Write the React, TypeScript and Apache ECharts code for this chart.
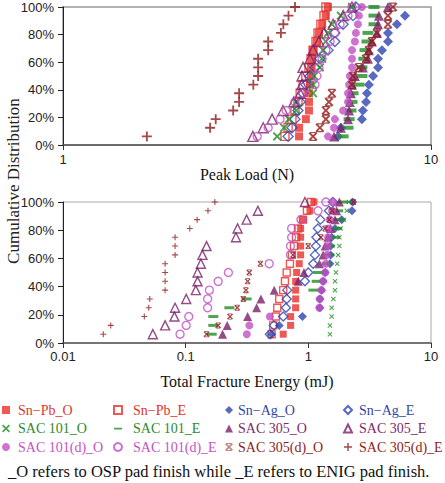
import React, { useEffect, useRef } from "react";
import * as echarts from "echarts";

// Cumulative distribution levels (%), one per ranked specimen
const cumulativePct = [6.25, 12.5, 18.75, 25, 31.25, 37.5, 43.75, 50, 56.25, 62.5, 68.75, 75, 81.25, 87.5, 93.75, 100];

const legendNames = [
  "Sn−Pb_O", "Sn−Pb_E", "Sn−Ag_O", "Sn−Ag_E",
  "SAC 101_O", "SAC 101_E", "SAC 305_O", "SAC 305_E",
  "SAC 101(d)_O", "SAC 101(d)_E", "SAC 305(d)_O", "SAC 305(d)_E",
];

const yTickLabels = ["0%", "20%", "40%", "60%", "80%", "100%"];

// Peak load (N)
const peakSnPbO = [4.38, 4.38, 4.57, 4.66, 4.66, 4.66, 4.69, 4.72, 4.72, 4.75, 4.78, 4.9, 4.96, 5.06, 5.18, 5.25];
const peakSnPbE = [4.01, 4.09, 4.19, 4.27, 4.35, 4.41, 4.49, 4.57, 4.66, 4.72, 4.78, 4.87, 4.93, 5.02, 5.12, 5.18];
const peakSnAgO = [5.59, 5.69, 6.49, 6.53, 6.66, 6.7, 6.78, 6.96, 7.18, 7.18, 7.36, 7.64, 7.64, 8.08, 8.5];
const peakSnAgE = [4.09, 4.19, 4.27, 4.35, 4.41, 4.49, 4.57, 4.69, 4.84, 4.99, 5.25, 5.48, 5.48, 5.77, 6.14, 6.25];
const peakSAC101O = [3.82, 3.99, 4.11, 4.3, 4.32, 4.78, 4.78, 4.81, 4.99, 5.06, 5.09, 5.18, 5.25, 5.38, 5.69, 6.1];
const peakSAC101E = [5.77, 5.95, 5.99, 6.06, 6.1, 6.14, 6.37, 6.49, 6.49, 6.57, 6.62, 6.7, 6.74, 7.0, 7.0, 7.0];
const peakSAC305O = [5.45, 5.69, 5.95, 5.99, 6.02, 6.06, 6.1, 6.21, 6.53, 6.74, 6.78, 6.91, 7.13, 7.18, 7.22, 7.64];
const peakSAC305E = [3.28, 3.5, 3.7, 3.96, 4.24, 4.41, 4.46, 4.46, 4.49, 4.69, 4.78, 4.96, 5.12, 5.42, 5.77, 6.1];
const peakSAC101dO = [5.25, 5.45, 5.48, 5.77, 5.95, 5.95, 5.99, 6.02, 6.1, 6.1, 6.1, 6.21, 6.25, 6.33, 6.37, 6.49];
const peakSAC101dE = [3.37, 3.61, 3.89, 4.04, 4.27, 4.49, 4.84, 4.9, 4.96, 5.06, 5.18, 5.32, 5.48, 5.66, 5.95, 6.1];
const peakSAC305dO = [4.78, 4.99, 5.18, 5.18, 5.28, 5.38, 6.1, 6.14, 6.37, 6.66, 6.78, 6.91, 7.13, 7.64, 7.64, 7.88];
const peakSAC305dE = [1.69, 2.51, 2.6, 2.9, 3.01, 3.01, 3.29, 3.39, 3.39, 3.39, 3.61, 3.61, 3.91, 3.97, 4.1, 4.27];

// Total fracture energy (mJ)
const energySnPbO = [0.624, 0.717, 0.717, 0.788, 0.788, 0.788, 0.788, 0.803, 0.843, 0.865, 0.865, 0.865, 0.865, 0.904, 1.03, 1.11];
const energySnPbE = [0.502, 0.517, 0.544, 0.558, 0.579, 0.624, 0.645, 0.666, 0.708, 0.735, 0.763, 0.793, 0.823, 0.904, 0.974, 1.05];
const energySnAgO = [0.502, 0.579, 0.895, 1.243, 1.243, 1.28, 1.32, 1.37, 1.5, 1.52, 1.52, 1.55, 1.65, 1.87, 2.27, 2.3];
const energySnAgE = [0.486, 0.524, 0.624, 0.657, 0.666, 0.673, 0.938, 0.998, 1.096, 1.132, 1.153, 1.163, 1.197, 1.255, 1.472, 1.587];
const energySAC101O = [1.5, 1.5, 1.55, 1.55, 1.6, 1.65, 1.65, 1.68, 1.72, 1.75, 1.79, 1.79, 1.83, 1.95, 2.06, 2.14];
const energySAC101E = [0.163, 0.168, 0.168, 0.227, 0.314, 1.1, 1.17, 1.2, 1.41, 1.48, 1.5, 1.65, 1.72, 1.75, 1.75, 1.92];
const energySAC305O = [0.2, 0.218, 0.32, 0.379, 0.411, 0.527, 0.828, 0.921, 1.23, 1.32, 1.37, 1.44, 1.52, 1.65, 1.7, 1.79];
const energySAC305E = [0.054, 0.068, 0.081, 0.082, 0.101, 0.121, 0.125, 0.125, 0.133, 0.137, 0.148, 0.257, 0.265, 0.314, 0.388, 0.938];
const energySAC101dO = [0.315, 0.33, 0.486, 1.23, 1.24, 1.28, 1.32, 1.37, 1.39, 1.42, 1.44, 1.45, 1.46, 1.5, 1.56, 1.58];
const energySAC101dE = [0.09, 0.101, 0.106, 0.151, 0.151, 0.156, 0.184, 0.223, 0.48, 0.715, 0.715, 0.731, 0.731, 0.87, 1.2, 1.39];
const energySAC305dO = [0.148, 0.184, 0.23, 0.263, 0.295, 0.31, 0.32, 0.33, 0.407, 0.749, 0.998, 1.267, 1.37, 1.48, 1.56, 2.33];
const energySAC305dE = [0.0213, 0.0245, 0.046, 0.05, 0.051, 0.068, 0.068, 0.068, 0.068, 0.082, 0.082, 0.082, 0.108, 0.124, 0.152, 0.173];

const peakData = [peakSnPbO, peakSnPbE, peakSnAgO, peakSnAgE, peakSAC101O, peakSAC101E, peakSAC305O, peakSAC305E, peakSAC101dO, peakSAC101dE, peakSAC305dO, peakSAC305dE];
const energyData = [energySnPbO, energySnPbE, energySnAgO, energySnAgE, energySAC101O, energySAC101E, energySAC305O, energySAC305E, energySAC101dO, energySAC101dE, energySAC305dO, energySAC305dE];

const RED = "#E8302A";
const BLUE = "#2D44B0";
const GREEN = "#1F8C24";
const PURPLE = "#7B1F69";
const PINK = "#C24EC4";
const DARKRED = "#8E1A1A";

const X_PATH = "path://M0,1.5L1.5,0L5,3.5L8.5,0L10,1.5L6.5,5L10,8.5L8.5,10L5,6.5L1.5,10L0,8.5L3.5,5Z";
const AST_PATH = "path://M0,1.5L1.5,0L5,3.5L8.5,0L10,1.5L6.5,5L10,8.5L8.5,10L5,6.5L1.5,10L0,8.5L3.5,5Z M1,0H9V1.3H1Z M1,8.7H9V10H1Z";
const PLUS_PATH = "path://M4.1,0H5.9V4.1H10V5.9H5.9V10H4.1V5.9H0V4.1H4.1Z";
const DASH_ICON = "path://M0,0H0.01V0.01H0Z M0,4H10V6.2H0Z M9.99,9.99H10V10H9.99Z";

type Look = { color: string; text: string; symbol: string; hollow: boolean; top: number | number[]; bottom: number | number[] };
const looks: Look[] = [
  { color: RED, text: "#E3342B", symbol: "rect", hollow: false, top: 8, bottom: 7 },
  { color: RED, text: "#E3342B", symbol: "rect", hollow: true, top: 8, bottom: 7 },
  { color: BLUE, text: "#3346A8", symbol: "diamond", hollow: false, top: 10, bottom: 9 },
  { color: BLUE, text: "#3346A8", symbol: "diamond", hollow: true, top: 10, bottom: 9 },
  { color: GREEN, text: "#2A8A2E", symbol: X_PATH, hollow: false, top: 9, bottom: 5 },
  { color: GREEN, text: "#2A8A2E", symbol: "rect", hollow: false, top: [11, 4], bottom: [10, 3] },
  { color: PURPLE, text: "#7E2A6C", symbol: "triangle", hollow: false, top: 10, bottom: 9 },
  { color: PURPLE, text: "#7E2A6C", symbol: "triangle", hollow: true, top: 10, bottom: 9 },
  { color: PINK, text: "#C452C6", symbol: "circle", hollow: false, top: 8, bottom: 8 },
  { color: PINK, text: "#C452C6", symbol: "circle", hollow: true, top: 8, bottom: 8 },
  { color: DARKRED, text: "#8B1E1E", symbol: AST_PATH, hollow: false, top: 9, bottom: 6 },
  { color: DARKRED, text: "#8B1E1E", symbol: PLUS_PATH, hollow: false, top: 10, bottom: 6 },
];

const SERIF = '"Liberation Serif", "Times New Roman", serif';
const SANS = '"Liberation Sans", Arial, sans-serif';

function toPairs(xs: number[]) {
  return xs.map((x, i) => [x, cumulativePct[i]]);
}

function fmtLog(v: number) {
  return String(parseFloat(Number(v).toPrecision(4)));
}

export default function App() {
  const ref = useRef<HTMLDivElement>(null);
  useEffect(() => {
    if (!ref.current) return;
    const chart = echarts.init(ref.current, undefined, { renderer: "svg" });

    const series: any[] = [];
    [0, 1].forEach((g) => {
      legendNames.forEach((name, i) => {
        const lk = looks[i];
        const xs = g === 0 ? peakData[i] : energyData[i];
        series.push({
          type: "scatter",
          name,
          xAxisIndex: g,
          yAxisIndex: g,
          symbol: lk.symbol,
          symbolSize: g === 0 ? lk.top : lk.bottom,
          data: toPairs(xs),
          itemStyle: lk.hollow
            ? { color: "rgba(255,255,255,0)", borderColor: lk.color, borderWidth: 1.4 }
            : { color: lk.color },
          emphasis: { disabled: true },
        });
      });
    });

    const cols = [
      { left: 2, pad: 3, idx: [0, 4, 8] },
      { left: 113, pad: 6, idx: [1, 5, 9] },
      { left: 225, pad: 0, idx: [2, 6, 10] },
      { left: 343, pad: 2, idx: [3, 7, 11] },
    ];

    const yAxisCommon = {
      type: "value",
      min: 0,
      max: 100,
      interval: 20,
      axisLine: { show: true, lineStyle: { color: "#222", width: 1 } },
      axisTick: { show: true, length: 5, lineStyle: { color: "#222" } },
      axisLabel: {
        formatter: (v: number) => yTickLabels[Math.round(v / 20)],
        fontFamily: SANS,
        fontSize: 13,
        color: "#222",
        margin: 9,
      },
      splitLine: { show: false },
    };

    const xAxisCommon = {
      type: "log",
      logBase: 10,
      axisLine: { show: true, lineStyle: { color: "#555", width: 1.5 } },
      axisTick: { show: true, length: 5, lineStyle: { color: "#333" } },
      minorTick: { show: false },
      splitLine: { show: false },
      nameLocation: "middle",
      nameTextStyle: { fontFamily: SERIF, fontSize: 16, color: "#111" },
    };

    chart.setOption({
      animation: false,
      backgroundColor: "#fff",
      grid: [
        { left: 63, top: 7, width: 368, height: 138, show: true, borderColor: "#999", borderWidth: 1.5, backgroundColor: "transparent" },
        { left: 63, top: 202, width: 368, height: 141, show: true, borderColor: "#aaa", borderWidth: 1, backgroundColor: "transparent" },
      ],
      xAxis: [
        {
          ...xAxisCommon,
          gridIndex: 0,
          min: 1,
          max: 10,
          name: "Peak Load (N)",
          nameGap: 21,
          axisLabel: { formatter: fmtLog, fontFamily: SANS, fontSize: 13, color: "#222", margin: 8 },
        },
        {
          ...xAxisCommon,
          gridIndex: 1,
          min: 0.01,
          max: 10,
          name: "Total Fracture Energy (mJ)",
          nameGap: 30,
          axisLabel: { formatter: fmtLog, fontFamily: SANS, fontSize: 13, color: "#222", margin: 7 },
        },
      ],
      yAxis: [
        { ...yAxisCommon, gridIndex: 0 },
        { ...yAxisCommon, gridIndex: 1 },
      ],
      legend: cols.map((c) => ({
        orient: "vertical",
        left: c.left,
        top: 401,
        padding: 0,
        itemWidth: 8,
        itemHeight: 8,
        itemGap: 0.5,
        selectedMode: false,
        textStyle: { fontFamily: SERIF, fontSize: 14, lineHeight: 18, padding: [0, 0, 0, c.pad] },
        data: c.idx.map((i) => {
          const item: any = { name: legendNames[i], textStyle: { color: looks[i].text } };
          if (i === 5) item.icon = DASH_ICON;
          if (i === 10) item.itemStyle = { color: "#B86A6A" };
          return item;
        }),
      })),
      graphic: [
        {
          type: "text",
          x: 13,
          y: 181,
          rotation: Math.PI / 2,
          style: {
            text: "Cumulative Distribution",
            fontFamily: SERIF,
            fontSize: 17,
            fill: "#222",
            align: "center",
            verticalAlign: "middle",
            textAlign: "center",
            textVerticalAlign: "middle",
          },
        },
        {
          type: "text",
          left: 8,
          top: 463,
          style: {
            text: "_O refers to OSP pad finish while _E refers to ENIG pad finish.",
            fontFamily: SERIF,
            fontSize: 16.5,
            fill: "#111",
          },
        },
      ],
      series,
    });

    return () => chart.dispose();
  }, []);

  return <div ref={ref} style={{ width: 445, height: 483, position: "absolute", left: 0, top: 0 }} />;
}
